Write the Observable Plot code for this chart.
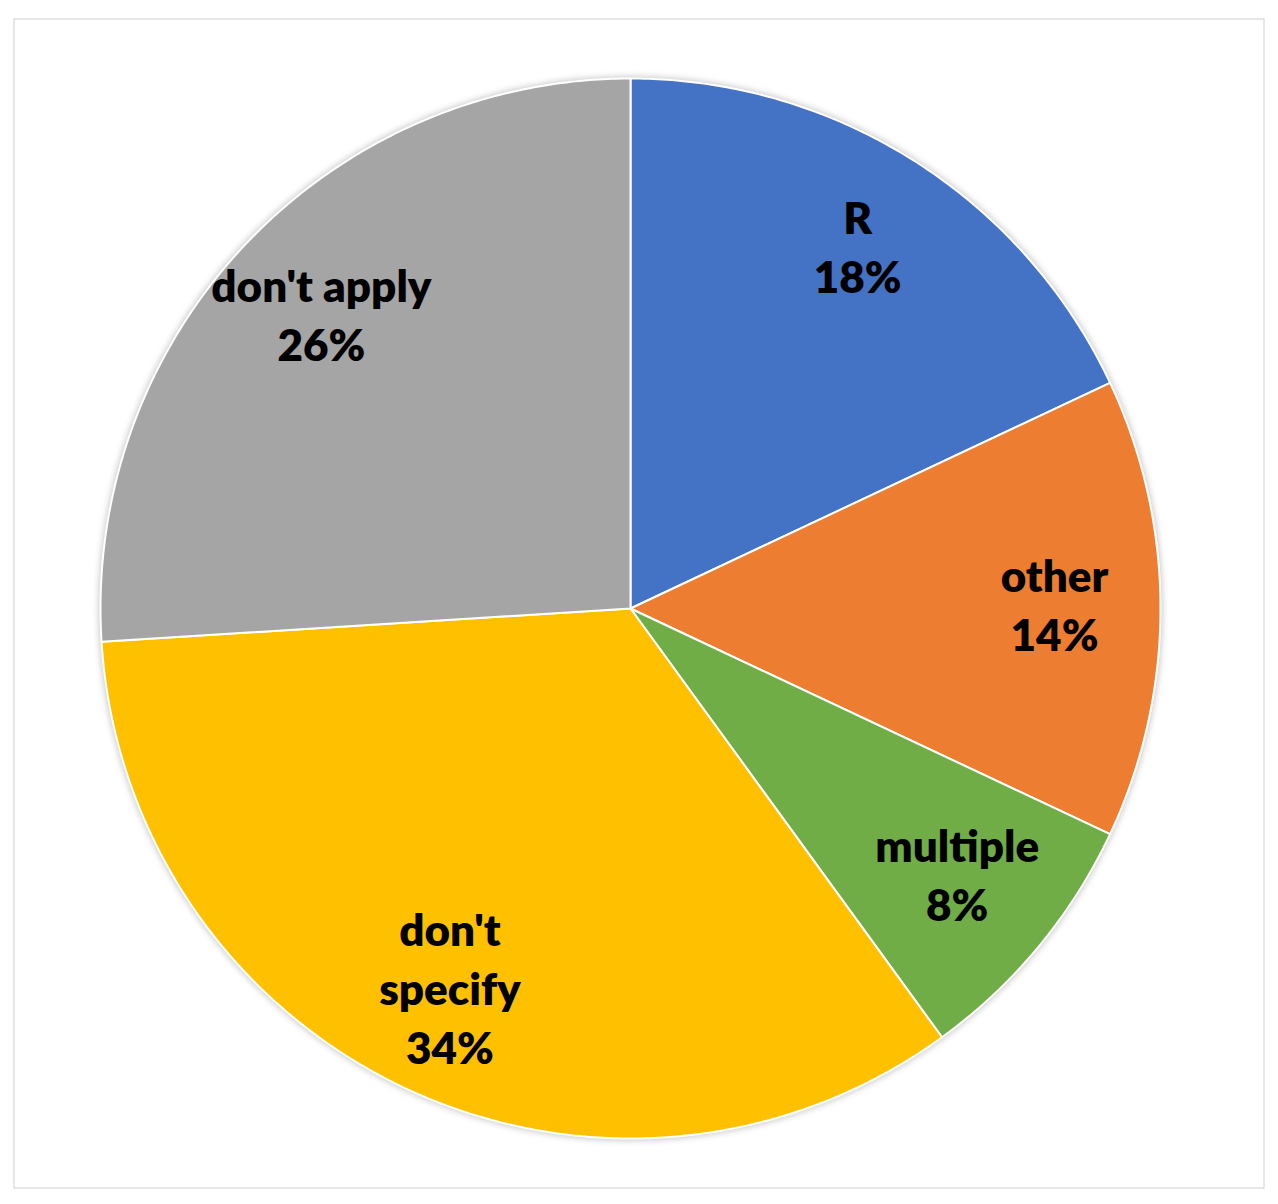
<!DOCTYPE html>
<html>
<head>
<meta charset="utf-8">
<script src="https://cdn.jsdelivr.net/npm/d3@7"></script>
<script src="https://cdn.jsdelivr.net/npm/@observablehq/plot@0.6"></script>
<style>
  html, body { margin: 0; padding: 0; background: #fff; }
  #chart svg { display: block; }
  #chart g[aria-label="dot"] circle { filter: blur(3px); }
</style>
</head>
<body>
<div id="chart"></div>
<script>
const categories = ["R", "other", "multiple", "don't specify", "don't apply"];
const labelLines = ["R", "other", "multiple", "don't\nspecify", "don't apply"];
const values = [18, 14, 8, 34, 26];
const colors = ["#4472C4", "#ED7D31", "#70AD47", "#FFC000", "#A5A5A5"];

const arcs = d3.pie().sort(null).value(d => d)(values);

// polygon outlines of each slice (unit circle, clockwise from 12 o'clock)
const polys = [];
arcs.forEach((a, i) => {
  const name = categories[i];
  polys.push({name, x: 0, y: 0});
  const n = Math.max(2, Math.ceil((a.endAngle - a.startAngle) / (Math.PI / 360)));
  for (let k = 0; k <= n; k++) {
    const t = a.startAngle + (a.endAngle - a.startAngle) * k / n;
    polys.push({name, x: Math.sin(t), y: Math.cos(t)});
  }
});

const labels = arcs.map((a, i) => {
  const m = (a.startAngle + a.endAngle) / 2;
  return {
    text: labelLines[i] + "\n" + values[i] + "%",
    x: 0.8 * Math.sin(m),
    y: 0.8 * Math.cos(m)
  };
});

const chart = Plot.plot({
  width: 1278,
  height: 1204,
  margin: 0,
  x: {domain: [-1, 1], range: [100, 1160], axis: null},
  y: {domain: [-1, 1], range: [1138, 78], axis: null},
  color: {domain: categories, range: colors},
  style: {background: "#fff"},
  marks: [
    Plot.frame({stroke: "#d0d0d0", insetLeft: 13.5, insetTop: 18.5, insetRight: 14.5, insetBottom: 16.5}),
    Plot.dot([0], {x: () => 0, y: () => 0, r: 532, fill: "#c8c8c8", stroke: "none"}),
    Plot.line(polys, {x: "x", y: "y", z: "name", fill: "name", stroke: "#fff", strokeWidth: 2, curve: "linear-closed"}),
    Plot.text(labels, {x: "x", y: "y", dy: -6, text: "text", fill: "#000", fontSize: 44, fontWeight: 800, fontFamily: "Lato", lineHeight: 1.34})
  ]
});
document.getElementById("chart").appendChild(chart);
</script>
</body>
</html>
